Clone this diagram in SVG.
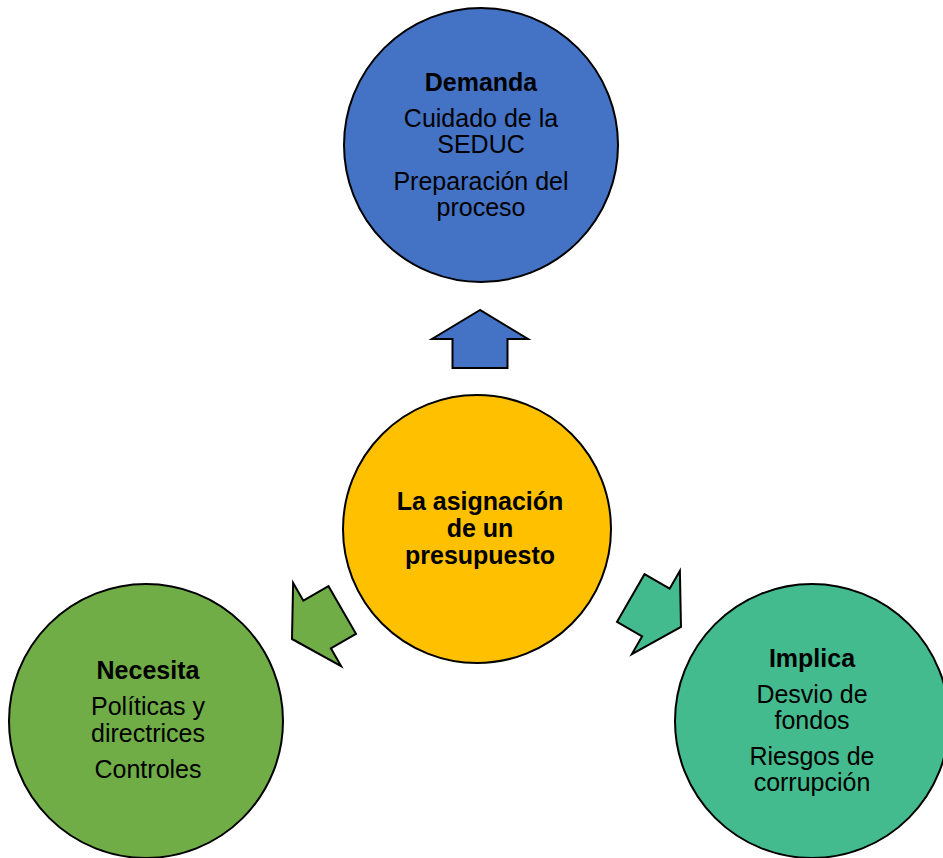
<svg xmlns="http://www.w3.org/2000/svg" width="943" height="858" viewBox="0 0 943 858">
<style>
.c{stroke:#000;stroke-width:2}
.a{stroke:#000;stroke-width:2;stroke-linejoin:miter}
text{font-family:"Liberation Sans",Arial,sans-serif;font-size:25px;fill:#000;text-anchor:middle}
.b{font-weight:bold}
</style>
<defs>
<polygon id="arr" points="0,0 -29,-48 -29,-27.5 -58,-27.5 -58,27.5 -29,27.5 -29,48"/>
</defs>
<rect width="943" height="858" fill="#fff"/>
<g id="connectors">
<use href="#arr" class="a" fill="#4472C4" transform="translate(480,310) rotate(-90)"/>
<use href="#arr" class="a" fill="#70AD47" transform="translate(292,639) rotate(150)"/>
<use href="#arr" class="a" fill="#44BB8E" transform="translate(681,627) rotate(30)"/>
</g>
<g id="demanda">
<circle class="c" cx="481" cy="145" r="137" fill="#4472C4"/>
<text class="b" x="481" y="91">Demanda</text>
<text x="481" y="127">Cuidado de la</text>
<text x="481" y="153">SEDUC</text>
<text x="481" y="190">Preparación del</text>
<text x="481" y="216">proceso</text>
</g>
<g id="centro">
<circle class="c" cx="477" cy="529" r="134" fill="#FFC000"/>
<text class="b" x="480" y="510">La asignación</text>
<text class="b" x="480" y="537">de un</text>
<text class="b" x="480" y="564">presupuesto</text>
</g>
<g id="necesita">
<circle class="c" cx="146" cy="721" r="137" fill="#70AD47"/>
<text class="b" x="148" y="679">Necesita</text>
<text x="148" y="715">Políticas y</text>
<text x="148" y="742">directrices</text>
<text x="148" y="778">Controles</text>
</g>
<g id="implica">
<circle class="c" cx="812" cy="721" r="137" fill="#44BB8E"/>
<text class="b" x="812" y="667">Implica</text>
<text x="812" y="703">Desvio de</text>
<text x="812" y="729">fondos</text>
<text x="812" y="765">Riesgos de</text>
<text x="812" y="791">corrupción</text>
</g>
</svg>
